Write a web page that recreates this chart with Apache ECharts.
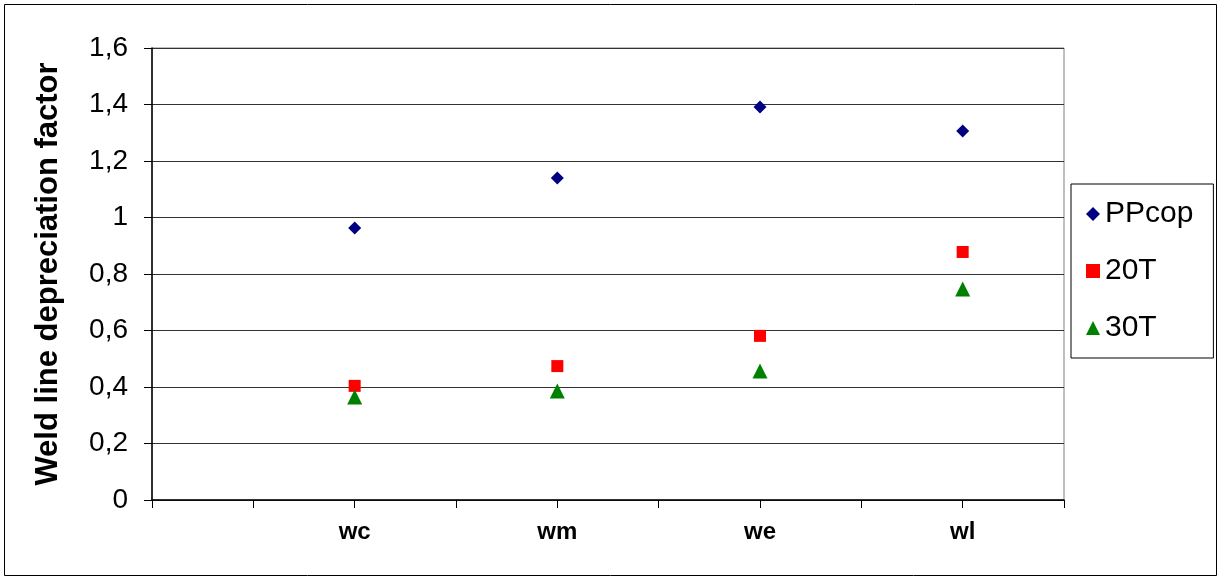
<!DOCTYPE html>
<html><head><meta charset="utf-8">
<script src="https://cdn.jsdelivr.net/npm/echarts@6/dist/echarts.min.js"></script>
<style>html,body{margin:0;padding:0;background:#fff}#c{width:1220px;height:580px}</style>
</head><body><div id="c"></div>
<script>
const categories = ['wc', 'wm', 'we', 'wl'];
const ppcop = [0.963, 1.140, 1.391, 1.306];
const t20 = [0.404, 0.474, 0.581, 0.878];
const t30 = [0.365, 0.386, 0.457, 0.747];
const yTicks = ['0', '0,2', '0,4', '0,6', '0,8', '1', '1,2', '1,4', '1,6'];

const toPts = arr => arr.map((v, i) => [i + 1, v]);
const FONT = '"Liberation Sans", Arial, sans-serif';

const chart = echarts.init(document.getElementById('c'), null, {renderer: 'canvas'});
chart.setOption({
  animation: false,
  backgroundColor: '#fff',
  graphic: [{type: 'rect', shape: {x: 4.5, y: 4.5, width: 1212, height: 571}, style: {fill: 'none', stroke: '#000', lineWidth: 1}, silent: true}],
  grid: {left: 152, right: 156, top: 48, bottom: 80, show: true, borderColor: '#808080', borderWidth: 1},
  xAxis: {
    type: 'value', min: 0, max: 4.5, interval: 0.5,
    axisLine: {show: true, onZero: false, lineStyle: {color: '#000', width: 1.5}},
    axisTick: {show: true, length: 8, lineStyle: {color: '#000'}},
    splitLine: {show: false},
    axisLabel: {
      margin: 20, fontFamily: FONT, fontSize: 24, fontWeight: 'bold', color: '#000',
      formatter: v => (Number.isInteger(v) && v >= 1 && v <= categories.length) ? categories[v - 1] : ''
    }
  },
  yAxis: {
    type: 'value', min: 0, max: 1.6, interval: 0.2,
    name: 'Weld line depreciation factor', nameLocation: 'middle', nameGap: 88,
    nameTextStyle: {fontFamily: FONT, fontSize: 31, fontWeight: 'bold', color: '#000'},
    axisLine: {show: true, lineStyle: {color: '#000', width: 1.5}},
    axisTick: {show: true, length: 8, lineStyle: {color: '#000'}},
    splitLine: {show: true, lineStyle: {color: '#333', width: 1}},
    axisLabel: {
      margin: 24, fontFamily: FONT, fontSize: 28, color: '#000',
      formatter: (v) => yTicks[Math.round(v / 0.2)]
    }
  },
  legend: {
    orient: 'vertical', left: 1071, top: 184,
    padding: [15, 20, 15, 15], itemGap: 27, itemWidth: 14, itemHeight: 14, itemTextGap: 11,
    borderColor: '#000', borderWidth: 1,
    textStyle: {fontFamily: FONT, fontSize: 30, color: '#000'},
    data: [
      {name: 'PPcop', icon: 'diamond'},
      {name: '20T', icon: 'rect'},
      {name: '30T', icon: 'triangle'}
    ]
  },
  series: [
    {name: 'PPcop', type: 'scatter', data: toPts(ppcop), symbol: 'diamond', symbolSize: 13, itemStyle: {color: '#000080', opacity: 1}},
    {name: '20T', type: 'scatter', data: toPts(t20), symbol: 'rect', symbolSize: 12, itemStyle: {color: '#ff0000', opacity: 1}},
    {name: '30T', type: 'scatter', data: toPts(t30), symbol: 'triangle', symbolSize: 15, itemStyle: {color: '#008000', opacity: 1}}
  ]
});
</script></body></html>
